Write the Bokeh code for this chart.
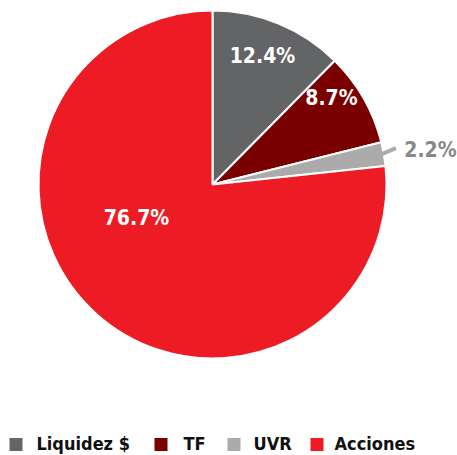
import math
from bokeh.plotting import figure
from bokeh.models import Range1d, ColumnDataSource
from bokeh.core.properties import value
from bokeh.embed import file_html
from bokeh.resources import INLINE

# ---- data ----
categories = ["Liquidez $", "TF", "UVR", "Acciones"]
shares = [12.4, 8.7, 2.2, 76.7]
labels = ["12.4%", "8.7%", "2.2%", "76.7%"]

# ---- style ----
colors = ["#636466", "#7a0000", "#ababab", "#ed1c24"]
label_colors = ["white", "white", "#87888a", "white"]
FONT = "'DejaVu Sans Condensed', Roboto, sans-serif"

W, H = 457, 455
def fx(ix): return ix
def fy(iy): return H - iy

cx, cy, R = fx(212), fy(184), 174

p = figure(width=W, height=H, output_backend="svg", toolbar_location=None,
           x_range=Range1d(0, W), y_range=Range1d(0, H), min_border=0)
p.axis.visible = False
p.grid.visible = False
p.outline_line_color = None

total = sum(shares)
starts, ends = [], []
a = math.pi / 2
for s in shares:
    starts.append(a)
    a -= s / total * 2 * math.pi
    ends.append(a)

src = ColumnDataSource(dict(start=starts, end=ends, color=colors, cat=categories))
p.wedge(x=cx, y=cy, radius=R, start_angle="start", end_angle="end", direction="clock",
        fill_color="color", line_color="white", line_width=2, source=src)

# leader for small slice
mid_uvr = (starts[2] + ends[2]) / 2
p.segment(x0=cx + R * math.cos(mid_uvr) - 2, y0=cy + R * math.sin(mid_uvr),
          x1=cx + (R + 13) * math.cos(mid_uvr + 0.02), y1=cy + (R + 13) * math.sin(mid_uvr + 0.02),
          line_color="#ababab", line_width=4)

# label positions (image px)
label_pos = [(262, 55), (331, 97), (430, 149), (136, 217)]
p.text(x=[fx(x) for x, _ in label_pos], y=[fy(y) for _, y in label_pos], text=labels,
       text_color=label_colors, text_font=value(FONT), text_font_style="bold",
       text_font_size="21px", text_align="center", text_baseline="middle")

# legend
leg_sq_x = [15.5, 160.5, 233.5, 316.5]
leg_tx_x = [36, 183, 253, 334]
p.rect(x=[fx(x) for x in leg_sq_x], y=[fy(444)] * 4, width=13, height=13,
       fill_color=colors, line_color=None)
p.text(x=[fx(x) for x in leg_tx_x], y=[fy(443)] * 4, text=categories,
       text_color="#111111", text_font=value(FONT), text_font_style="bold",
       text_font_size="18px", text_align="left", text_baseline="middle")

open("out.html", "w").write(file_html(p, INLINE))
